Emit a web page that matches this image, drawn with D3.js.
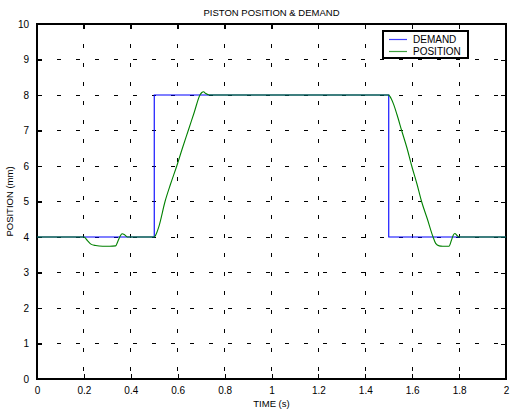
<!DOCTYPE html>
<html>
<head>
<meta charset="utf-8">
<script src="https://cdn.jsdelivr.net/npm/d3@7"></script>
<style>
  body { margin: 0; background: #fff; }
  text { font-family: "Liberation Sans", Arial, sans-serif; fill: #000; }
</style>
</head>
<body>
<div id="chart"></div>
<script>
// demand step signal
const demandTime = [0, 0.5, 0.5, 1.5, 1.5, 2];
const demandValue = [4, 4, 8, 8, 4, 4];

// measured piston position
const positionTime = [0, 0.2, 0.215, 0.23, 0.25, 0.28, 0.31, 0.335, 0.345, 0.355, 0.363, 0.372, 0.385, 0.4, 0.5, 0.505,
    0.52, 0.546, 0.57, 0.596, 0.62, 0.645, 0.67, 0.695, 0.703, 0.71, 0.72, 0.735, 1.5, 1.505, 1.52, 1.535,
    1.555, 1.578, 1.598, 1.62, 1.64, 1.665, 1.689, 1.7, 1.715, 1.73, 1.757, 1.767, 1.775, 1.782, 1.79, 1.8, 1.815, 2];
const positionValue = [4, 4, 3.9, 3.8, 3.76, 3.74, 3.74, 3.75, 3.88, 4.03, 4.09, 4.07, 4.0, 4.0, 4.0, 4.04,
    4.3, 5, 5.5, 6, 6.5, 7, 7.5, 8, 8.07, 8.09, 8.04, 8.0, 8.0, 7.96, 7.75, 7.45,
    7, 6.5, 6, 5.5, 5, 4.5, 4, 3.82, 3.75, 3.74, 3.74, 3.9, 4.05, 4.1, 4.05, 4.0, 4.0, 4];

const xTicks = [0, 0.2, 0.4, 0.6, 0.8, 1, 1.2, 1.4, 1.6, 1.8, 2];
const yTicks = [0, 1, 2, 3, 4, 5, 6, 7, 8, 9, 10];

const seriesNames = ["DEMAND", "POSITION"];
const seriesColors = ["#0000ff", "#008000"];

const W = 511, H = 412;
const margin = {top: 24, right: 5, bottom: 33, left: 37};
const width = W - margin.left - margin.right;
const height = H - margin.top - margin.bottom;

const svg = d3.select("#chart").append("svg")
    .attr("width", W)
    .attr("height", H);

const g = svg.append("g")
    .attr("transform", `translate(${margin.left},${margin.top})`);

const x = d3.scaleLinear().domain([0, 2]).range([0, width]);
const y = d3.scaleLinear().domain([0, 10]).range([height, 0]);

// grid
g.append("g").selectAll("line")
    .data(xTicks.slice(1, -1))
    .join("line")
    .attr("x1", d => x(d)).attr("x2", d => x(d))
    .attr("y1", 0).attr("y2", height)
    .attr("stroke", "#000").attr("stroke-width", 1)
    .attr("stroke-dasharray", "4,15").attr("stroke-dashoffset", -1)
    .attr("shape-rendering", "crispEdges");

g.append("g").selectAll("line")
    .data(yTicks.slice(1, -1))
    .join("line")
    .attr("x1", 0).attr("x2", width)
    .attr("y1", d => y(d)).attr("y2", d => y(d))
    .attr("stroke", "#000").attr("stroke-width", 1)
    .attr("stroke-dasharray", "4,15").attr("stroke-dashoffset", -1)
    .attr("shape-rendering", "crispEdges");

// axes (inside ticks, matlab style)
const fmt = d => String(d);
const xAxis = d3.axisBottom(x).tickValues(xTicks).tickSizeInner(-5).tickSizeOuter(0).tickPadding(8).tickFormat(fmt);
const yAxis = d3.axisLeft(y).tickValues(yTicks).tickSizeInner(-5).tickSizeOuter(0).tickPadding(8).tickFormat(fmt);

g.append("g").attr("class", "axis")
    .attr("transform", `translate(0,${height})`)
    .call(xAxis);
g.append("g").attr("class", "axis")
    .call(yAxis);
g.append("g").attr("class", "axis")
    .call(d3.axisTop(x).tickValues(xTicks).tickSizeInner(-5).tickSizeOuter(0).tickFormat(""));
g.append("g").attr("class", "axis")
    .attr("transform", `translate(${width},0)`)
    .call(d3.axisRight(y).tickValues(yTicks).tickSizeInner(-5).tickSizeOuter(0).tickFormat(""));

g.selectAll(".axis .domain").remove();
g.selectAll(".axis text").attr("font-size", 10).attr("font-family", "Liberation Sans, Arial, sans-serif");
g.selectAll(".axis line").attr("stroke", "#000").attr("shape-rendering", "crispEdges");

// box
g.append("rect")
    .attr("x", 0).attr("y", 0)
    .attr("width", width).attr("height", height)
    .attr("fill", "none").attr("stroke", "#000").attr("stroke-width", 1.2)
    .attr("shape-rendering", "crispEdges");

// lines
const line = d3.line().x(d => x(d[0])).y(d => y(d[1]));
const demandData = demandTime.map((t, i) => [t, demandValue[i]]);
const positionData = positionTime.map((t, i) => [t, positionValue[i]]);

g.append("path").datum(demandData)
    .attr("d", line).attr("fill", "none")
    .attr("stroke", seriesColors[0]).attr("stroke-width", 1.1);
g.append("path").datum(positionData)
    .attr("d", d3.line().x(d => x(d[0])).y(d => y(d[1])).curve(d3.curveMonotoneX))
    .attr("fill", "none")
    .attr("stroke", seriesColors[1]).attr("stroke-width", 1.1);

// legend
const lg = g.append("g").attr("transform", `translate(${383 - margin.left},${31 - margin.top})`);
lg.append("rect")
    .attr("width", 85).attr("height", 27)
    .attr("fill", "#fff").attr("stroke", "#000").attr("stroke-width", 1.2)
    .attr("shape-rendering", "crispEdges");
seriesNames.forEach((name, i) => {
    const yy = 8.5 + i * 12;
    lg.append("line")
        .attr("x1", 6).attr("x2", 24)
        .attr("y1", yy).attr("y2", yy)
        .attr("stroke", seriesColors[i]).attr("stroke-width", 1.2)
        .attr("stroke-opacity", 0.75);
    lg.append("text")
        .attr("x", 30).attr("y", yy + 3.5)
        .attr("font-size", 10)
        .text(name);
});

// titles
svg.append("text")
    .attr("x", margin.left + width / 2).attr("y", 16)
    .attr("text-anchor", "middle").attr("font-size", 9.5)
    .text("PISTON POSITION & DEMAND");

svg.append("text")
    .attr("x", margin.left + width / 2).attr("y", 407)
    .attr("text-anchor", "middle").attr("font-size", 9.5)
    .text("TIME (s)");

svg.append("text")
    .attr("transform", `translate(13,${margin.top + height / 2}) rotate(-90)`)
    .attr("text-anchor", "middle").attr("font-size", 9.5)
    .text("POSITION (mm)");
</script>
</body>
</html>
